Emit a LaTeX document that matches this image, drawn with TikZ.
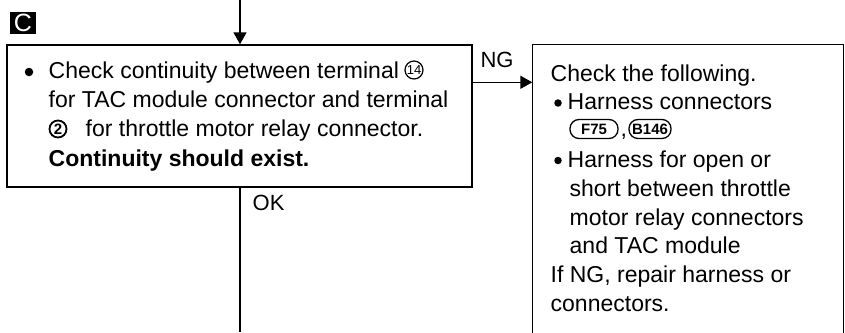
\documentclass[tikz,border=0pt]{standalone}
\usepackage{fontspec}
\setmainfont{Liberation Sans}
\usetikzlibrary{arrows.meta}
\begin{document}
\begin{tikzpicture}[x=1pt,y=1pt,
  line width=1.4pt,
  txt/.style={anchor=base west, inner sep=0pt, font=\fontsize{23}{28}\selectfont},
  lbl/.style={inner sep=0pt, font=\fontsize{22}{26}\selectfont},
  bul/.style={circle, fill=black, inner sep=0pt, minimum size=8.5pt},
  arr/.style={-{Triangle[width=13pt,length=12pt]}},
  conn/.style={draw, rounded corners=9pt, line width=1.3pt, inner sep=0pt, minimum height=19pt, font=\bfseries\fontsize{15}{15}\selectfont},
  cnum/.style={circle, draw, inner sep=0pt, minimum size=18pt, line width=1.2pt}
]
\useasboundingbox (0,0) rectangle (845,-332);

% section label
\node[fill=black, text=white, inner sep=0pt, minimum width=26pt, minimum height=22pt,
      font=\fontsize{25}{25}\selectfont] (sec) at (23,-23) {C};

% boxes
\node[draw, minimum width=465pt, minimum height=142pt, inner sep=0pt] (lb) at (239.5,-116) {};
\node[minimum width=310pt, minimum height=287pt, inner sep=0pt] (rb) at (688,-188.5) {};
\draw (rb.south west) |- (rb.north east) -- (rb.south east);

% connectors
\coordinate (top) at (240,0);
\coordinate (bot) at (240,-332);
\draw[arr] (top) -- (top |- lb.north);
\draw (top |- lb.south) -- (bot);
\draw[arr] ([yshift=-38pt]lb.north east) -- ([yshift=-38pt]rb.north west);
\node[lbl] (ng) at (497,-60) {NG};
\node[lbl, anchor=west] (ok) at (252,-203) {OK};

% left box text
\node[bul] (lb1) at (29,-72) {};
\node[txt] (l1) at (48,-78) {Check continuity between terminal};
\node[cnum] (c14) at (414,-70) {\fontsize{13}{13}\selectfont 14};
\node[txt] (l2) at (48,-107.3) {for TAC module connector and terminal};
\node[cnum, line width=1.8pt, minimum size=17pt] (c2) at (58,-129) {\bfseries\fontsize{15}{15}\selectfont 2};
\node[txt] (l3) at (85,-136.6) {for throttle motor relay connector.};
\node[txt, font=\bfseries\fontsize{23}{28}\selectfont] (l4) at (48,-166) {Continuity should exist.};

% right box text
\node[txt] (r1) at (550,-81) {Check the following.};
\node[bul, minimum size=7.5pt] (rb1) at (558,-103) {};
\node[txt] (r2) at (567,-109.8) {Harness connectors};
\node[conn, minimum width=48pt] (f75) at (594,-129) {F75\hspace{6pt}};
\node[txt] (comma) at (620,-136) {,};
\node[conn, minimum width=42pt] (b146) at (650,-129) {B146};
\node[bul, minimum size=7.5pt] (rb2) at (558,-160.5) {};
\node[txt] (r4) at (567,-167.4) {Harness for open or};
\node[txt] (r5) at (569,-196.2) {short between throttle};
\node[txt] (r6) at (569,-225) {motor relay connectors};
\node[txt] (r7) at (569,-253.8) {and TAC module};
\node[txt] (r8) at (550,-282.6) {If NG, repair harness or};
\node[txt] (r9) at (550,-311.4) {connectors.};
\end{tikzpicture}
\end{document}
